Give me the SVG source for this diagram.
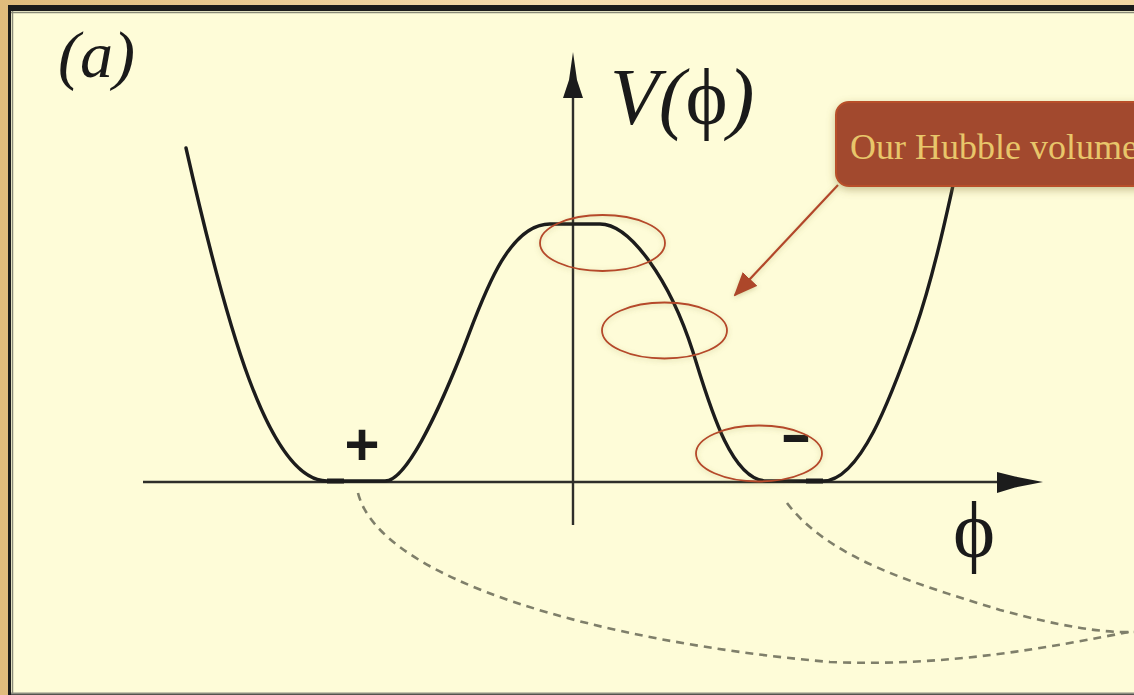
<svg xmlns="http://www.w3.org/2000/svg" width="1134" height="695" viewBox="0 0 1134 695">
  <defs>
    <linearGradient id="bg" x1="0" y1="0" x2="1" y2="0">
      <stop offset="0" stop-color="#e0bb7c"/>
      <stop offset="0.5" stop-color="#f6ddb0"/>
      <stop offset="1" stop-color="#f2d6a2"/>
    </linearGradient>
    <filter id="soft" x="-20%" y="-30%" width="140%" height="160%">
      <feDropShadow dx="0" dy="1.5" stdDeviation="2.5" flood-color="#8f8a40" flood-opacity="0.35"/>
    </filter>
    <filter id="callShadow" x="-10%" y="-20%" width="120%" height="150%">
      <feDropShadow dx="0" dy="3" stdDeviation="4" flood-color="#8a7d38" flood-opacity="0.45"/>
    </filter>
    <marker id="calloutHead" markerWidth="24" markerHeight="20" refX="22" refY="10" orient="auto" markerUnits="userSpaceOnUse" viewBox="0 0 24 20">
      <path d="M0,0 L24,10 L0,20 Z" fill="#ad462c"/>
    </marker>
    <style>
      .ink { fill: none; stroke: #1c1c1c; stroke-width: 3.4; stroke-linecap: round; stroke-linejoin: round; }
      .axis { fill: none; stroke: #2e2e2a; stroke-width: 2.4; }
      .dash { fill: none; stroke: #7f7f6a; stroke-width: 2.6; stroke-dasharray: 8 6; }
      .hl { fill: none; stroke: #b5482a; stroke-width: 1.8; }
      .serif { font-family: "Liberation Serif", "Times New Roman", serif; fill: #1a1a1a; }
      .sans { font-family: "Liberation Sans", Arial, sans-serif; fill: #1a1a1a; }
    </style>
  </defs>

  <g id="frame">
    <rect x="0" y="0" width="1134" height="695" fill="url(#bg)"/>
    <rect x="8" y="5" width="1140" height="700" fill="#1b1b1b"/>
    <rect x="11" y="11" width="1130" height="682" fill="#fefcd8"/>
    <line x1="11" y1="12.5" x2="1134" y2="12.5" stroke="#8a8a78" stroke-width="1.5"/>
    <line x1="12.5" y1="11" x2="12.5" y2="693" stroke="#8a8a78" stroke-width="1.5"/>
    <line x1="11" y1="693.5" x2="1134" y2="693.5" stroke="#8c8c80" stroke-width="2"/>
  </g>

  <g id="axes">
    <line class="axis" x1="143" y1="482" x2="1000" y2="482"/>
    <path d="M997,472 L1015,476.5 L1043,482 L1015,487.5 L997,493 Z" fill="#1c1c1c"/>
    <line class="axis" x1="573" y1="98" x2="573" y2="525"/>
    <path d="M573,52 L569,80 L563,98 L583,98 L577,80 Z" fill="#1c1c1c"/>
  </g>

  <g id="potential">
    <path class="ink" d="M186,148 C225,320 268,481 327,481 L385,481 C405,481 435,420 462,352 C480,307 505,224 550,224 L600,224 C630,224 670,280 693,352 C708,400 730,481 767,481 L823,481 C860,481 890,400 915,330 C935,272 950,200 965,130"/>
    <line x1="327" y1="481" x2="344" y2="481" stroke="#1c1c1c" stroke-width="5"/>
    <line x1="806" y1="481" x2="823" y2="481" stroke="#1c1c1c" stroke-width="5"/>
  </g>

  <g id="labels">
    <text class="serif" x="58" y="77" font-size="66" font-style="italic">(a)</text>
    <text class="serif" x="610" y="124" font-size="80"><tspan font-style="italic">V(</tspan>ϕ<tspan font-style="italic">)</tspan></text>
    <text class="serif" x="974" y="557" font-size="80" text-anchor="middle">ϕ</text>
    <text class="sans" x="362" y="465" font-size="60" font-weight="bold" text-anchor="middle">+</text>
    <text class="sans" x="780" y="454" font-size="60" textLength="32" lengthAdjust="spacingAndGlyphs" font-weight="bold">-</text>
  </g>

  <g id="connectors">
    <path class="dash" d="M358,493 C380,580 600,642 830,662 C950,667 1050,647 1134,631"/>
    <path class="dash" d="M787,503 C830,560 920,585 1000,610 C1060,626 1100,633 1134,632"/>
    <line x1="838" y1="185" x2="735" y2="295" stroke="#b2462a" stroke-width="2.2" marker-end="url(#calloutHead)" filter="url(#soft)"/>
  </g>

  <g id="highlight-top" filter="url(#soft)">
    <ellipse class="hl" cx="602.5" cy="243" rx="62.5" ry="28"/>
  </g>
  <g id="highlight-slope" filter="url(#soft)">
    <ellipse class="hl" cx="664.5" cy="330.5" rx="62.5" ry="28"/>
  </g>
  <g id="highlight-bottom" filter="url(#soft)">
    <ellipse class="hl" cx="759" cy="453.5" rx="63" ry="28"/>
  </g>

  <g id="callout">
    <rect x="836" y="102" width="330" height="84" rx="13" fill="#a2482f" stroke="#b8502a" stroke-width="2" filter="url(#callShadow)"/>
    <text x="850" y="159" font-size="36" font-family="'Liberation Serif', 'Times New Roman', serif" fill="#e8c66a">Our Hubble volume</text>
  </g>
</svg>
